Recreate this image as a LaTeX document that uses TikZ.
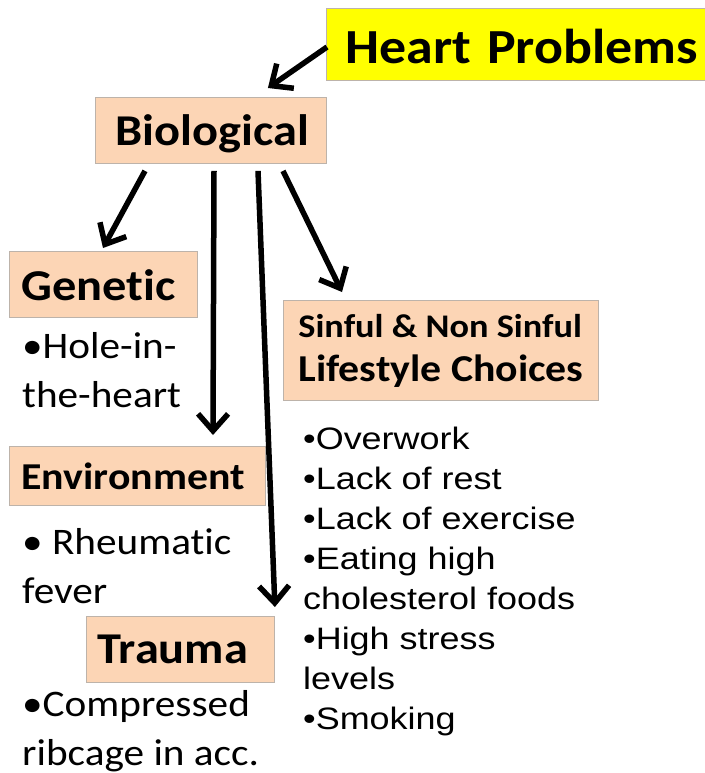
\documentclass[tikz,border=0pt]{standalone}
\usepackage{fontspec}
\setmainfont{Carlito}[FakeStretch=1.10, Ligatures=NoCommon]
\newfontfamily\listfont{Liberation Sans}[FakeStretch=1.16]
\usetikzlibrary{arrows.meta}
\definecolor{peach}{HTML}{FCD5B5}
\definecolor{boxline}{HTML}{BDB3AA}
\definecolor{hilite}{HTML}{FFFF00}
\tikzset{
  box/.style={draw=boxline, fill=peach, line width=0.9pt, anchor=north west,
    inner xsep=12pt, inner ysep=0pt, align=left, text depth=0pt, font=\bfseries},
  arr/.style={line width=5.5pt, -{Straight Barb[length=17pt,width=30pt]}},
  note/.style={anchor=base west, inner sep=0pt, align=left},
}
\begin{document}
\begin{tikzpicture}[x=1pt, y=-1pt]
  \useasboundingbox (0,0) rectangle (704,773);

  % title and category boxes
  \node[box, fill=hilite, inner xsep=19pt, text width=342pt, minimum height=72pt,
        text height=38pt, font=\bfseries\fontsize{49}{58}\selectfont] (heart) at (326,8) {\mbox{Heart Problems}};
  \node[box, text width=207pt, minimum height=66pt, text height=30pt,
        font=\bfseries\fontsize{44}{52}\selectfont] (bio) at (95,97) {\mbox{\hspace*{8pt}Biological}};
  \node[box, text width=164pt, minimum height=66pt, text height=32pt,
        font=\bfseries\fontsize{44}{52}\selectfont] (gen) at (9,251) {\mbox{Genetic}};
  \node[box, text width=232pt, minimum height=59pt, text height=27pt,
        font=\bfseries\fontsize{38}{44}\selectfont] (env) at (9,446) {\mbox{Environment}};
  \node[box, inner xsep=11pt, text width=166pt, minimum height=66pt, text height=28pt,
        font=\bfseries\fontsize{44}{52}\selectfont] (trauma) at (86,616) {\mbox{Trauma}};
  \node[box, minimum width=315pt, minimum height=100pt, text height=62pt,
        font=\bfseries\fontsize{38}{44}\selectfont] (life) at (283,300)
        {{\fontsize{33}{44}\selectfont Sinful \& Non Sinful}\\Lifestyle Choices};

  % bullet notes under each category (anchored at the last line's baseline)
  \node[note, font=\fontsize{37.5}{49}\selectfont] (genlist) at (22,407) {•Hole-in-\\the-heart};
  \node[note, font=\fontsize{37.5}{49}\selectfont] (envlist) at (22,603) {• Rheumatic\\fever};
  \node[note, font=\fontsize{37.5}{49}\selectfont] (traumalist) at (22,765) {•Compressed\\ribcage in acc.};
  \node[note, font=\listfont\fontsize{31}{40}\selectfont] (lifelist) at (303,729)
    {•Overwork\\•Lack of rest\\•Lack of exercise\\•Eating high\\cholesterol foods\\•High stress\\levels\\•Smoking};

  % connectors
  \draw[arr] ([shift={(1,39)}]heart.north west) -- ([shift={(-59,-9)}]bio.north east);
  \draw[arr] ([shift={(50,7)}]bio.south west) -- ([shift={(94,-3)}]gen.north west);
  \draw[arr] ([shift={(119,7)}]bio.south west) -- ([shift={(204,-11)}]env.north west);
  \draw[arr] ([shift={(163,7)}]bio.south west) -- ([shift={(0,-9)}]trauma.north east);
  \draw[arr] ([shift={(188,7)}]bio.south west) -- ([shift={(59,-8)}]life.north west);
\end{tikzpicture}
\end{document}
